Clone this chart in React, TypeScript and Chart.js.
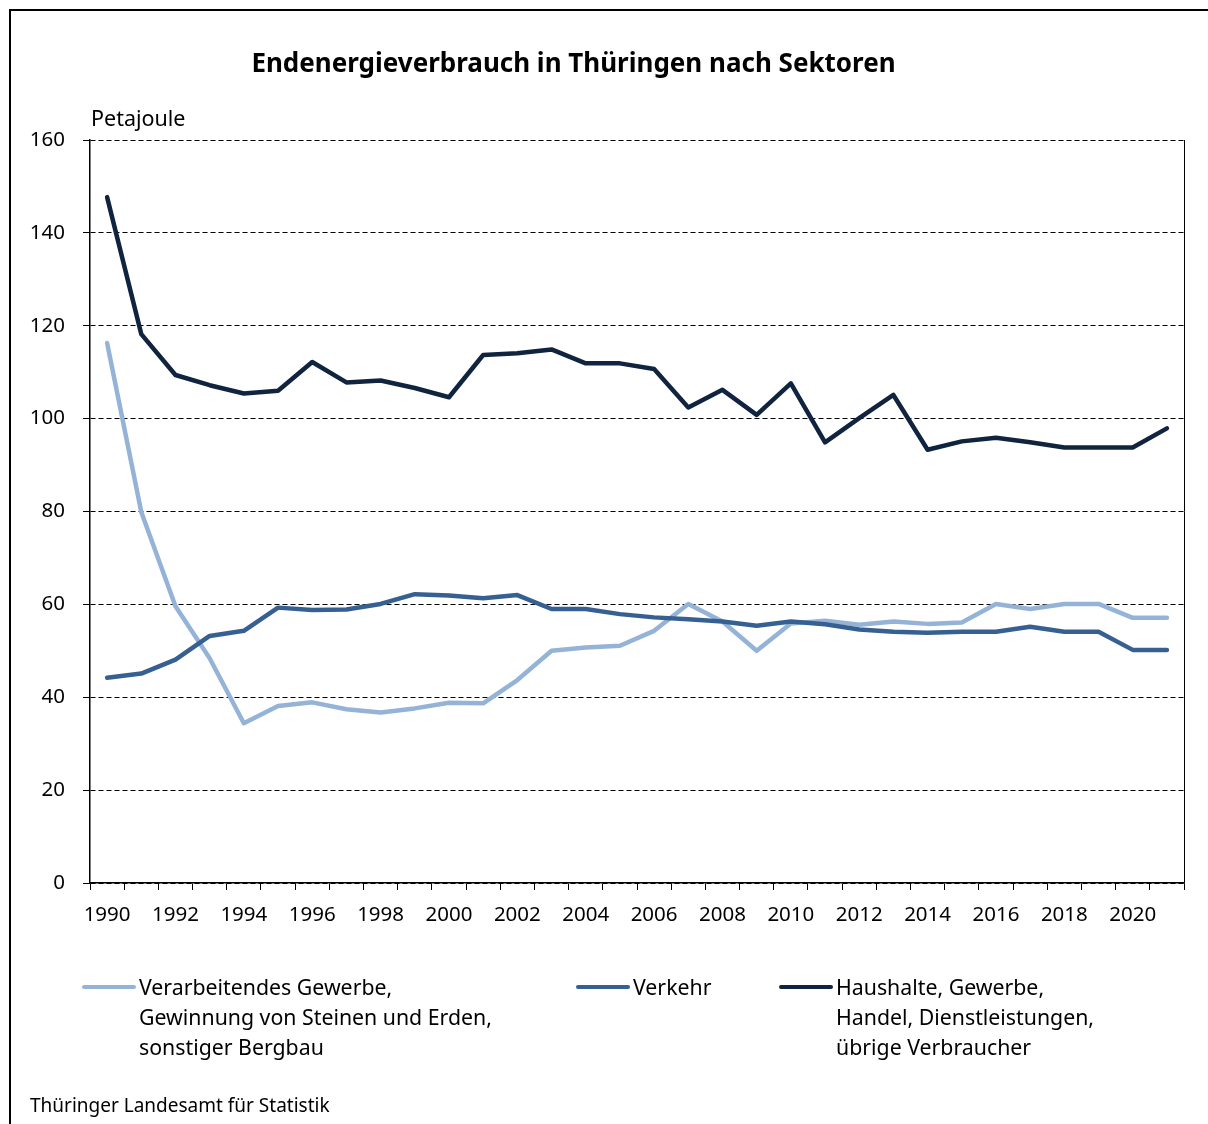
import React, { useEffect, useRef } from "react";
import { Chart, registerables } from "chart.js";

Chart.register(...registerables);

const years = [
  "1990", "1991", "1992", "1993", "1994", "1995", "1996", "1997", "1998", "1999",
  "2000", "2001", "2002", "2003", "2004", "2005", "2006", "2007", "2008", "2009",
  "2010", "2011", "2012", "2013", "2014", "2015", "2016", "2017", "2018", "2019",
  "2020", "2021",
];

const industry = [
  116.3, 79.9, 59.6, 48.4, 34.4, 38.1, 38.9, 37.4, 36.7, 37.6,
  38.8, 38.7, 43.7, 50.0, 50.7, 51.1, 54.3, 60.1, 56.3, 50.0,
  55.9, 56.5, 55.6, 56.3, 55.8, 56.1, 60.1, 59.0, 60.1, 60.1,
  57.1, 57.1,
];

const transport = [
  44.2, 45.1, 48.1, 53.2, 54.3, 59.3, 58.8, 58.9, 60.1, 62.2,
  61.9, 61.3, 62.0, 59.0, 59.0, 57.9, 57.2, 56.8, 56.3, 55.4,
  56.3, 55.7, 54.6, 54.1, 53.9, 54.1, 54.1, 55.2, 54.1, 54.1,
  50.2, 50.2,
];

const households = [
  147.7, 118.2, 109.4, 107.2, 105.4, 106.0, 112.2, 107.8, 108.2, 106.6,
  104.6, 113.7, 114.1, 114.9, 111.9, 111.9, 110.7, 102.4, 106.2, 100.8,
  107.6, 94.9, 100.1, 105.1, 93.3, 95.1, 95.9, 94.9, 93.8, 93.8,
  93.8, 97.9,
];

const seriesLabels = [
  ["Verarbeitendes Gewerbe,", "Gewinnung von Steinen und Erden,", "sonstiger Bergbau"],
  ["Verkehr"],
  ["Haushalte, Gewerbe,", "Handel, Dienstleistungen,", "übrige Verbraucher"],
];
const seriesColors = ["#95b3d7", "#376092", "#10243f"];

const title = "Endenergieverbrauch in Thüringen nach Sektoren";
const unitLabel = "Petajoule";
const sourceLabel = "Thüringer Landesamt für Statistik";

const FONT = "'Noto Sans', sans-serif";

const rightBorder = {
  id: "rightBorder",
  afterDraw(chart: any) {
    const { ctx, chartArea } = chart;
    ctx.save();
    ctx.strokeStyle = "#000";
    ctx.lineWidth = 1;
    ctx.beginPath();
    ctx.moveTo(chartArea.right + 0.5, chartArea.top);
    ctx.lineTo(chartArea.right + 0.5, chartArea.bottom);
    ctx.stroke();
    ctx.restore();
  },
};

export default function App() {
  const canvasRef = useRef<HTMLCanvasElement | null>(null);

  useEffect(() => {
    if (!canvasRef.current) return;
    const chart = new Chart(canvasRef.current, {
      type: "line",
      data: {
        labels: years,
        datasets: [
          { label: seriesLabels[0].join(" "), data: industry, borderColor: seriesColors[0], order: 2 },
          { label: seriesLabels[1].join(" "), data: transport, borderColor: seriesColors[1], order: 1 },
          { label: seriesLabels[2].join(" "), data: households, borderColor: seriesColors[2], order: 0 },
        ].map((d) => ({
          ...d,
          backgroundColor: d.borderColor,
          borderWidth: 4.5,
          pointRadius: 0,
          tension: 0,
          borderJoinStyle: "round" as const,
          borderCapStyle: "round" as const,
          fill: false,
        })),
      },
      options: {
        responsive: false,
        animation: false,
        maintainAspectRatio: false,
        layout: { padding: { left: 0, right: 24, top: 140, bottom: 181 } },
        plugins: {
          legend: { display: false },
          title: { display: false },
          tooltip: { enabled: false },
        },
        font: { family: FONT },
        scales: {
          x: {
            type: "category",
            offset: true,
            afterFit(scale: any) {
              scale.height = 60;
            },
            grid: {
              display: true,
              offset: true,
              drawOnChartArea: false,
              drawTicks: true,
              tickLength: 7,
              tickColor: "#000",
              tickWidth: 1,
            },
            border: { display: true, color: "#000", width: 1.5 },
            ticks: {
              autoSkip: false,
              maxRotation: 0,
              padding: 13,
              color: "#000",
              font: { family: FONT, size: 20.5 },
              callback: (_v: any, i: number) => (i % 2 === 0 ? years[i] : ""),
            },
          },
          y: {
            min: 0,
            max: 160,
            afterFit(scale: any) {
              scale.width = 90;
            },
            grid: {
              display: true,
              color: "#000",
              lineWidth: 1,
              drawTicks: true,
              tickLength: 7,
              tickColor: "#000",
              tickWidth: 1,
              tickBorderDash: [],
            },
            border: { display: true, color: "#000", width: 1.5, dash: [5, 3] },
            ticks: {
              stepSize: 20,
              padding: 18,
              color: "#000",
              font: { family: FONT, size: 20.5 },
            },
          },
        },
      } as any,
      plugins: [rightBorder],
    });
    return () => chart.destroy();
  }, []);

  const textBase: React.CSSProperties = {
    position: "absolute",
    fontFamily: FONT,
    color: "#000",
    whiteSpace: "nowrap",
  };

  const legendPos = [
    { lineX: 82, textX: 139 },
    { lineX: 576, textX: 633 },
    { lineX: 779, textX: 836 },
  ];

  return (
    <div style={{ position: "absolute", left: 0, top: 0, width: 1208, height: 1124, overflow: "hidden", background: "#fff" }}>
      <div
        style={{
          position: "absolute",
          left: 9,
          top: 9,
          width: 1300,
          height: 1300,
          borderLeft: "2px solid #000",
          borderTop: "2px solid #000",
        }}
      />
      <canvas ref={canvasRef} width={1208} height={1124} style={{ position: "absolute", left: 0, top: 0 }} />
      <div
        style={{
          ...textBase,
          left: 0,
          width: 1147,
          top: 43,
          lineHeight: "38px",
          fontSize: 26,
          fontWeight: 700,
          textAlign: "center",
        }}
      >
        {title}
      </div>
      <div style={{ ...textBase, left: 91, top: 104, lineHeight: "28px", fontSize: 21.5 }}>{unitLabel}</div>
      {seriesLabels.map((lines, i) => (
        <React.Fragment key={i}>
          <div
            style={{
              position: "absolute",
              left: legendPos[i].lineX,
              top: 985,
              width: 54,
              height: 4,
              borderRadius: 2,
              background: seriesColors[i],
            }}
          />
          <div style={{ ...textBase, left: legendPos[i].textX, top: 972, lineHeight: "30px", fontSize: 21.3 }}>
            {lines.map((l, j) => (
              <div key={j}>{l}</div>
            ))}
          </div>
        </React.Fragment>
      ))}
      <div style={{ ...textBase, left: 30, top: 1093, lineHeight: "24px", fontSize: 19 }}>{sourceLabel}</div>
    </div>
  );
}
